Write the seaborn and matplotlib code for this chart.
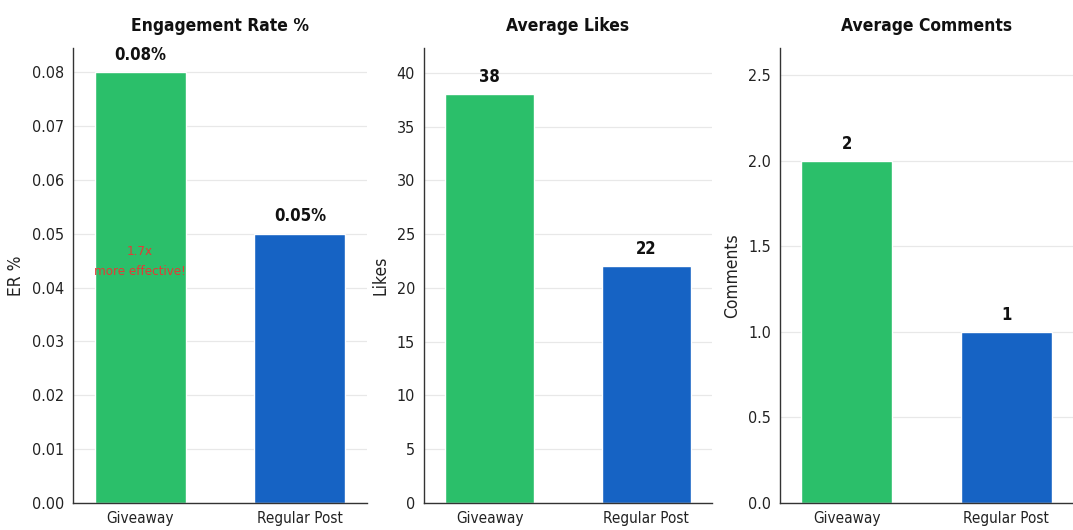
import matplotlib
matplotlib.use("Agg")
import matplotlib.pyplot as plt
import seaborn as sns
import pandas as pd

categories = ["Giveaway", "Regular Post"]
er_values = [0.08, 0.05]
likes_values = [38, 22]
comments_values = [2, 1]
titles = ["Engagement Rate %", "Average Likes", "Average Comments"]
ylabels = ["ER %", "Likes", "Comments"]
er_labels = ["0.08%", "0.05%"]
likes_labels = ["38", "22"]
comments_labels = ["2", "1"]
ylims = [0.0845, 42.3, 2.66]
yticks = [[0, 0.01, 0.02, 0.03, 0.04, 0.05, 0.06, 0.07, 0.08],
          [0, 5, 10, 15, 20, 25, 30, 35, 40],
          [0, 0.5, 1.0, 1.5, 2.0, 2.5]]
ytickfmt = ["{:.2f}", "{:.0f}", "{:.1f}"]
note_text = "1.7x\nmore effective!"
note_y = 0.0448

colors = ["#2bbf6a", "#1663c4"]

sns.set_style("white")
plt.rcParams["font.family"] = ["DejaVu Sans"]
plt.rcParams["font.stretch"] = "condensed"

fig = plt.figure(figsize=(10.73, 5.30), dpi=100)
W, H = 1073, 530
boxes = [(73, 367), (424, 712), (780, 1073)]
top_px, bot_px = 48, 503

datasets = [er_values, likes_values, comments_values]
labelsets = [er_labels, likes_labels, comments_labels]

for i, (vals, labs) in enumerate(zip(datasets, labelsets)):
    l, r = boxes[i]
    ax = fig.add_axes([l / W, 1 - bot_px / H, (r - l) / W, (bot_px - top_px) / H])
    df = pd.DataFrame({"cat": categories, "val": vals})
    sns.barplot(data=df, x="cat", y="val", hue="cat", palette=colors,
                legend=False, width=0.57, ax=ax, saturation=1)
    ax.set_xlim(-0.42, 1.42)
    ax.set_ylim(0, ylims[i])
    ax.set_yticks(yticks[i])
    ax.set_yticklabels([ytickfmt[i].format(t) for t in yticks[i]], fontsize=11.5)
    ax.tick_params(axis="y", length=3.5, width=0.8, colors="#333333",
                   labelcolor="#222222", pad=3)
    ax.tick_params(axis="x", length=0, labelsize=11, labelcolor="#222222", pad=6)
    ax.set_xlabel("")
    ax.set_ylabel(ylabels[i], fontsize=12.5, color="#222222", labelpad=5)
    ax.set_title(titles[i], fontsize=12.5, fontweight="bold", pad=12, color="#111111")
    ax.grid(axis="y", color="#e8e8e8", linewidth=0.9)
    ax.set_axisbelow(True)
    for s in ["top", "right"]:
        ax.spines[s].set_visible(False)
    for s in ["left", "bottom"]:
        ax.spines[s].set_color("#333333")
        ax.spines[s].set_linewidth(1.0)
    for j, (v, t) in enumerate(zip(vals, labs)):
        ax.annotate(t, (j, v), xytext=(0, 6), textcoords="offset points",
                    ha="center", va="bottom", fontsize=12, fontweight="bold",
                    color="#111111")
    if i == 0:
        ax.text(0, note_y, note_text, ha="center", va="center", fontsize=9.5,
                color="#e53935", linespacing=1.7)

fig.savefig("out.png", dpi=100)
